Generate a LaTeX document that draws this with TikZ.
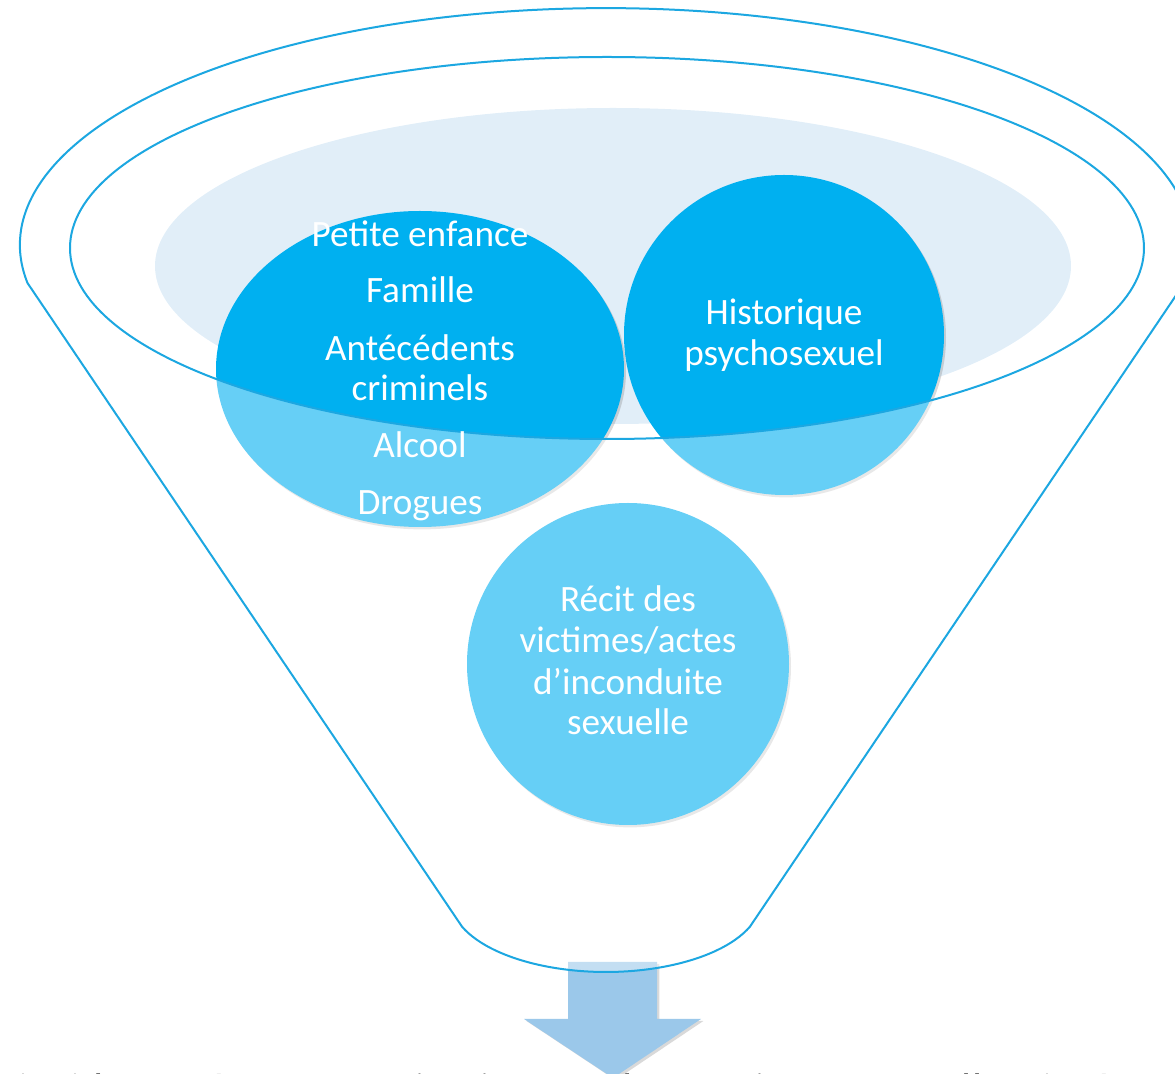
\documentclass[tikz,border=0pt]{standalone}
\usepackage{fontspec}
\setmainfont{Carlito}
\usepackage{tikz}
\usetikzlibrary{shadows,shapes.geometric}

\definecolor{rimblue}{RGB}{28,167,225}
\definecolor{ballblue}{RGB}{0,176,240}
\definecolor{mouthfill}{RGB}{225,238,248}
\definecolor{arrowblue}{RGB}{155,200,234}

\begin{document}
\begin{tikzpicture}[line cap=round,line join=round,x=0.5pt,y=-0.5pt,
  rim/.style={draw=rimblue,line width=1pt},
  ball/.style={fill=ballblue,draw=none,inner sep=0pt,outer sep=0pt,
    drop shadow={shadow xshift=1pt,shadow yshift=-1.2pt,opacity=0.3}},
  balltext/.style={text=white,font=\fontsize{18.6}{20}\selectfont,anchor=base,inner sep=0pt}]
\useasboundingbox (0,0) rectangle (1175,1074);

% rim and bottom of the funnel
\coordinate (rimL) at (27.5,283);
\coordinate (rimR) at (1184.5,283);
\coordinate (neckR) at (750,926.6);
\coordinate (neckL) at (462,926.6);

\fill[mouthfill] (613,266) ellipse [x radius=458,y radius=158];

% the three balls
\node[ball,circle,minimum size=160pt] (psycho) at (784,335) {};
\node[ball,ellipse,minimum width=204pt,minimum height=158pt] (early) at (420,369) {};
\node[ball,circle,minimum size=161pt] (victims) at (628,664) {};

% arrow under the funnel
\fill[arrowblue,drop shadow={shadow xshift=1.2pt,shadow yshift=-1pt,opacity=0.3}]
  (568,962) -- (657,962) -- (657,1019) -- (701,1019) -- (613,1078)
  -- (524,1019) -- (568,1019) -- cycle;

% funnel body, lighter outside the mouth
\fill[white,fill opacity=0.4,even odd rule]
  (rimL) arc[start angle=170.8,end angle=369.2,x radius=586,y radius=237]
  -- (neckR) arc[start angle=21.7,end angle=158.3,x radius=155,y radius=72] -- cycle
  (607,248) ellipse [x radius=537,y radius=191];

\draw[rim] (rimL) arc[start angle=170.8,end angle=369.2,x radius=586,y radius=237]
  -- (neckR) arc[start angle=21.7,end angle=158.3,x radius=155,y radius=72] -- cycle;
\draw[rim] (607,248) ellipse [x radius=537,y radius=191];

\node[balltext] (pe) at (420,247) {Petite enfance};
\node[balltext] (fam) at (420,303) {Famille};
\node[balltext] (ant) at (420,361) {Antécédents};
\node[balltext] (crim) at (420,401) {criminels};
\node[balltext] (alc) at (420,458) {Alcool};
\node[balltext] (drog) at (420,515) {Drogues};

\node[balltext] (hist) at (784,325) {Historique};
\node[balltext] (psx) at (784,366) {psychosexuel};

\node[balltext] (recit) at (628,612) {Récit des};
\node[balltext] (vict) at (628,653) {victimes/actes};
\node[balltext] (incond) at (628,695) {d’inconduite};
\node[balltext] (sex) at (628,735) {sexuelle};

% text line cut by the lower edge
\begin{scope}
\clip (0,0) rectangle (1175,1074);
\node[anchor=base west,inner sep=0pt,font=\fontsize{22}{26}\selectfont] (summary) at (18,1105)
  {incidents récents, motivations et des pratiques sexuelles, intérêts};
\end{scope}
\end{tikzpicture}
\end{document}
